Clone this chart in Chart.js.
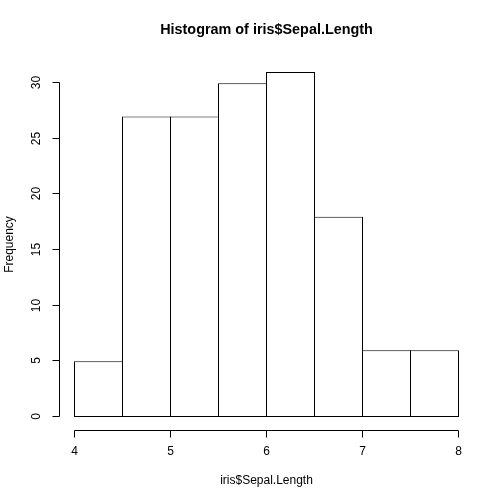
<!DOCTYPE html>
<html>
<head>
<meta charset="utf-8">
<script src="https://cdn.jsdelivr.net/npm/chart.js@4/dist/chart.umd.min.js"></script>
<style>
  html, body { margin: 0; padding: 0; background: #fff; }
  #wrap { width: 504px; height: 504px; }
</style>
</head>
<body>
<div id="wrap"><canvas id="histChart" width="504" height="504"></canvas></div>
<script>
"use strict";

// histogram data (iris$Sepal.Length)
const binCenters = [4.25, 4.75, 5.25, 5.75, 6.25, 6.75, 7.25, 7.75];
const counts = [5, 27, 27, 30, 31, 18, 6, 6];
const xTicks = [4, 5, 6, 7, 8];
const yTicks = [0, 5, 10, 15, 20, 25, 30];

const titleText = "Histogram of iris$Sepal.Length";
const xTitle = "iris$Sepal.Length";
const yTitle = "Frequency";

const fontFamily = "'Liberation Sans', Arial, Helvetica, sans-serif";

// base-graphics style axes, drawn from the chart scales
const baseAxes = {
  id: "baseAxes",
  afterDraw(chart) {
    const ctx = chart.ctx;
    const xs = chart.scales.x;
    const ys = chart.scales.y;
    const area = chart.chartArea;
    const axisX = Math.floor(area.left) + 0.5;
    const axisY = Math.floor(area.bottom) + 0.5;
    const tickLen = 7;

    ctx.save();
    ctx.strokeStyle = "#000";
    ctx.lineWidth = 1;
    ctx.fillStyle = "#000";
    ctx.font = "12px " + fontFamily;

    // x axis
    const xPix = xTicks.map((v) => Math.floor(xs.getPixelForValue(v)) + 0.5);
    ctx.beginPath();
    ctx.moveTo(xPix[0], axisY);
    ctx.lineTo(xPix[xPix.length - 1], axisY);
    xPix.forEach((p) => {
      ctx.moveTo(p, axisY);
      ctx.lineTo(p, axisY + tickLen);
    });
    ctx.stroke();
    ctx.textAlign = "center";
    ctx.textBaseline = "middle";
    xTicks.forEach((v, i) => {
      ctx.fillText(String(v), xPix[i], 452);
    });

    // y axis
    const yPix = yTicks.map((v) => Math.round(ys.getPixelForValue(v)) - 0.5);
    ctx.beginPath();
    ctx.moveTo(axisX, yPix[0]);
    ctx.lineTo(axisX, yPix[yPix.length - 1]);
    yPix.forEach((p) => {
      ctx.moveTo(axisX, p);
      ctx.lineTo(axisX - tickLen, p);
    });
    ctx.stroke();
    yTicks.forEach((v, i) => {
      ctx.save();
      ctx.translate(37, yPix[i]);
      ctx.rotate(-Math.PI / 2);
      ctx.fillText(String(v), 0, 0);
      ctx.restore();
    });

    // axis titles
    const midX = (area.left + area.right) / 2;
    const midY = (area.top + area.bottom) / 2;
    ctx.fillText(xTitle, midX, 481);
    ctx.save();
    ctx.translate(10, midY);
    ctx.rotate(-Math.PI / 2);
    ctx.fillText(yTitle, 0, 0);
    ctx.restore();

    // main title
    ctx.font = "bold 14.4px " + fontFamily;
    ctx.fillText(titleText, midX, 30);
    ctx.restore();
  },
};

const ctx = document.getElementById("histChart").getContext("2d");
new Chart(ctx, {
  type: "bar",
  data: {
    datasets: [
      {
        label: "Frequency",
        data: binCenters.map((x, i) => ({ x: x, y: counts[i] })),
        backgroundColor: "#ffffff",
        borderColor: "#000000",
        borderWidth: 1,
        borderSkipped: false,
        barPercentage: 49 / 48,
        categoryPercentage: 1,
      },
    ],
  },
  options: {
    responsive: false,
    animation: false,
    devicePixelRatio: 1,
    layout: {
      padding: { left: 59.14, right: 30.14, top: 58.2, bottom: 73.2 },
    },
    scales: {
      x: { type: "linear", min: 3.84, max: 8.16, offset: false, display: false },
      y: { type: "linear", min: -1.24, max: 32.24, display: false },
    },
    plugins: {
      legend: { display: false },
      tooltip: { enabled: false },
    },
  },
  plugins: [baseAxes],
});
</script>
</body>
</html>
